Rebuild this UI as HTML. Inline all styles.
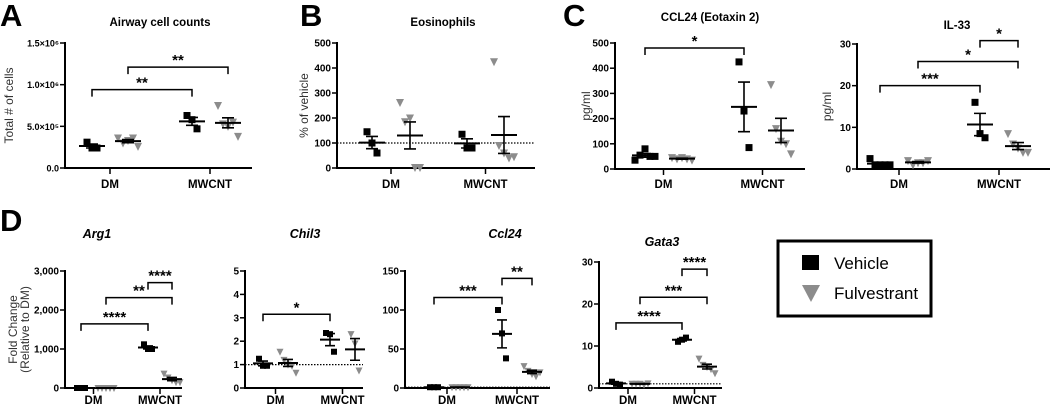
<!DOCTYPE html>
<html><head><meta charset="utf-8">
<style>
html,body{margin:0;padding:0;background:#fff;}
svg{display:block;font-family:"Liberation Sans",Arial,sans-serif;}
</style></head>
<body>
<svg id="fig" width="1050" height="406" viewBox="0 0 1050 406" xmlns="http://www.w3.org/2000/svg">
<text x="0" y="26" font-size="31" font-weight="bold">A</text>
<text x="300" y="26" font-size="31" font-weight="bold">B</text>
<text x="563" y="26" font-size="31" font-weight="bold">C</text>
<text x="0" y="231" font-size="31" font-weight="bold">D</text>
<g>
<rect x="778" y="241" width="153" height="75" fill="none" stroke="#000" stroke-width="3"/>
<rect x="802" y="255" width="17" height="15" fill="#000"/>
<text x="834" y="269" font-size="17">Vehicle</text>
<polygon points="802,285 820,285 811,302" fill="#8c8c8c"/>
<text x="834" y="299" font-size="17">Fulvestrant</text>
</g>
</svg>
<script>
// ---- data (group order: DM, MWCNT) ----
const groups = ["DM","MWCNT"];
const A_vehicle = [[3.1e5,2.4e5,2.4e5],[6.3e5,5.8e5,4.7e5]];
const A_fulv = [[3.6e5,3.0e5,3.3e5,3.6e5,2.6e5],[7.5e5,5.3e5,5.0e5,5.5e5,3.8e5]];
const A_ticks = [0,5e5,1e6,1.5e6];
const A_tickLabels = ["0.0","5.0×10⁵","1.0×10⁶","1.5×10⁶"];
const A_brackets = [[0,2,0.94e6,"**"],[1,3,1.21e6,"**"]];

const B_vehicle = [[145,100,60],[135,80,80]];
const B_fulv = [[262,185,200,2,2],[425,90,60,40,45]];
const B_ticks = [0,100,200,300,400,500];
const B_tickLabels = ["0","100","200","300","400","500"];
const B_brackets = [];

const C1_vehicle = [[35,55,80,50,50],[425,230,85]];
const C1_fulv = [[45,40,45,40,35],[335,160,110,100,60]];
const C1_ticks = [0,100,200,300,400,500];
const C1_tickLabels = ["0","100","200","300","400","500"];
const C1_brackets = [[0,2,480,"*"]];

const C2_vehicle = [[2.5,1,1,1,1],[16,8.5,7.5]];
const C2_fulv = [[2,1,1.5,1.5,2],[8.5,6,5,4,4]];
const C2_ticks = [0,10,20,30];
const C2_tickLabels = ["0","10","20","30"];
const C2_brackets = [[0,2,20,"***"],[1,3,25.8,"*"],[2,3,30.8,"*"]];

const D1_vehicle = [[0,0,0],[1120,1000,1000]];
const D1_fulv = [[0,0,0,0,0],[370,270,200,150,150]];
const D1_ticks = [0,1000,2000,3000];
const D1_tickLabels = ["0","1,000","2,000","3,000"];
const D1_brackets = [[0,2,1645,"****"],[1,3,2318,"**"],[2,3,2702,"****"]];

const D2_vehicle = [[1.25,0.95,0.95],[2.35,2.3,1.55]];
const D2_fulv = [[1.55,1.2,1.0,0.95,0.65],[2.3,1.9,0.75]];
const D2_ticks = [0,1,2,3,4,5];
const D2_tickLabels = ["0","1","2","3","4","5"];
const D2_brackets = [[0,2,3.15,"*"]];

const D3_vehicle = [[1,1,1],[100,70,38]];
const D3_fulv = [[1,1,1,1,1],[28,22,18,15,20]];
const D3_ticks = [0,50,100,150];
const D3_tickLabels = ["0","50","100","150"];
const D3_brackets = [[0,2,116,"***"],[2,3,140.6,"**"]];

const D4_vehicle = [[1.5,1,0.8],[11,11.5,12]];
const D4_fulv = [[1,1,1,0.8,1.1],[7,5.5,5,4.5,3.5]];
const D4_ticks = [0,10,20,30];
const D4_tickLabels = ["0","10","20","30"];
const D4_brackets = [[0,2,15.5,"****"],[1,3,21.6,"***"],[2,3,28.3,"****"]];

const NS="http://www.w3.org/2000/svg";
const svg=document.getElementById('fig');
function mk(tag,attrs,parent,txt){const e=document.createElementNS(NS,tag);for(const k in attrs)e.setAttribute(k,attrs[k]);if(txt!==undefined)e.textContent=txt;(parent||svg).appendChild(e);return e;}
function mean(a){return a.reduce((s,v)=>s+v,0)/a.length;}
function sem(a){const m=mean(a);if(a.length<2)return 0;const v=a.reduce((s,x)=>s+(x-m)*(x-m),0)/(a.length-1);return Math.sqrt(v/a.length);}

function panel(c){
  const g=mk('g',{});
  
  
  const ymax=c.ticks[c.ticks.length-1];
  const ys=v=>c.yb-v/ymax*(c.yb-c.yt);
  const gx=c.gx;
  const t=mk('text',{x:c.tx,y:c.ty,'font-size':c.italic?12.5:11.5,'font-weight':'bold','text-anchor':'middle','font-style':c.italic?'italic':'normal'},g,c.title);
  
  
  c.ylab.forEach((l,i)=>{
    const yx=c.ylx+i*12;
    const yl=mk('text',{x:yx,y:(c.yt+c.yb)/2,'font-size':12,fill:'#333','text-anchor':'middle',transform:`rotate(-90 ${yx} ${(c.yt+c.yb)/2})`},g,l);
    
    
  });
  if(c.ref!==undefined){
    const r=mk('line',{x1:c.x0,x2:c.x1,y1:ys(c.ref),y2:ys(c.ref),stroke:'#000','stroke-width':1.2,'stroke-dasharray':'1.5,1.5'},g);
    
    
  }
  const ya=mk('line',{x1:c.x0,x2:c.x0,y1:c.yt-1,y2:c.yb+1,stroke:'#000','stroke-width':2},g);
  
  
  const xa=mk('line',{x1:c.x0-1,x2:c.x1,y1:c.yb,y2:c.yb,stroke:'#000','stroke-width':2},g);
  
  
  c.ticks.forEach((v,i)=>{
    const tk=mk('line',{x1:c.x0-5,x2:c.x0,y1:ys(v),y2:ys(v),stroke:'#000','stroke-width':1.5},g);
    
    
    const tl=mk('text',{x:c.x0-6,y:ys(v)+3.5,'font-size':c.tfs||10,'font-weight':'bold','text-anchor':'end'},g,c.tickLabels[i]);
    
    
  });
  groups.forEach((gn,i)=>{
    const cx=(gx[i*2]+gx[i*2+1])/2;
    const tk=mk('line',{x1:cx,x2:cx,y1:c.yb,y2:c.yb+6,stroke:'#000','stroke-width':1.5},g);
    
    
    const tl=mk('text',{x:cx,y:c.xly,'font-size':11.5,'font-weight':'bold','text-anchor':'middle'},g,gn);
    
    
  });
  const sets=[[c.veh[0],gx[0],'v'],[c.ful[0],gx[1],'f'],[c.veh[1],gx[2],'v'],[c.ful[1],gx[3],'f']];
  sets.forEach(([arr,x,kind])=>{
    const n=arr.length, s=c.ms;
    arr.forEach((v,i)=>{
      const px=x+(i-(n-1)/2)*c.jit, py=ys(v);
      let m;
      if(kind==='v'){m=mk('rect',{x:px-s/2,y:py-s/2,width:s,height:s,fill:'#000'},g);}
      else{m=mk('polygon',{points:`${px-s/2-0.5},${py-s/2} ${px+s/2+0.5},${py-s/2} ${px},${py+s/2+1}`,fill:'#8c8c8c'},g);}
      
    });
    const m=mean(arr), e=sem(arr);
    const ml=mk('line',{x1:x-c.mw,x2:x+c.mw,y1:ys(m),y2:ys(m),stroke:'#000','stroke-width':2},g);
    
    
    const eb=mk('path',{d:`M${x},${ys(m-e)}V${ys(m+e)}M${x-c.cw},${ys(m+e)}H${x+c.cw}M${x-c.cw},${ys(m-e)}H${x+c.cw}`,stroke:'#000','stroke-width':1.6,fill:'none'},g);
    
    
  });
  c.brackets.forEach(([a,b,v,lab])=>{
    const y=ys(v);
    const br=mk('path',{d:`M${gx[a]},${y+7}V${y}H${gx[b]}V${y+7}`,stroke:'#000','stroke-width':1.5,fill:'none'},g);
    
    
    const bl=mk('text',{x:(gx[a]+gx[b])/2,y:y-2,'font-size':15,'font-weight':'bold','text-anchor':'middle'},g,lab);
    
    
  });
}

panel({name:'panel-a-airway-cell-counts',title:'Airway cell counts',tx:160,ty:26,x0:65,x1:252,yt:43,yb:168,gx:[92,128,192,228],
  veh:A_vehicle,ful:A_fulv,ticks:A_ticks,tickLabels:A_tickLabels,brackets:A_brackets,ylab:['Total # of cells'],ylx:13,xly:188,ms:7,jit:5,mw:13,cw:6,tfs:9});
panel({name:'panel-b-eosinophils',title:'Eosinophils',tx:443,ty:26,x0:337,x1:535,yt:43,yb:168,gx:[372,410,467,504],
  veh:B_vehicle,ful:B_fulv,ticks:B_ticks,tickLabels:B_tickLabels,brackets:B_brackets,ylab:['% of vehicle'],ylx:308,xly:188,ms:7,jit:5,mw:13,cw:6,ref:100});
panel({name:'panel-c-ccl24',title:'CCL24 (Eotaxin 2)',tx:710,ty:21,x0:615,x1:805,yt:43,yb:169,gx:[645,682,744,781],
  veh:C1_vehicle,ful:C1_fulv,ticks:C1_ticks,tickLabels:C1_tickLabels,brackets:C1_brackets,ylab:['pg/ml'],ylx:590,xly:188,ms:7,jit:5,mw:13,cw:6});
panel({name:'panel-c-il33',title:'IL-33',tx:957,ty:29,x0:857,x1:1050,yt:44,yb:169,gx:[880,918,980,1018],
  veh:C2_vehicle,ful:C2_fulv,ticks:C2_ticks,tickLabels:C2_tickLabels,brackets:C2_brackets,ylab:['pg/ml'],ylx:831,xly:188,ms:7,jit:5,mw:13,cw:6});
panel({name:'panel-d-arg1',title:'Arg1',italic:true,tx:97,ty:238,x0:65,x1:182,yt:271,yb:388,gx:[81,106,148,172],
  veh:D1_vehicle,ful:D1_fulv,ticks:D1_ticks,tickLabels:D1_tickLabels,brackets:D1_brackets,ylab:['Fold Change','(Relative to DM)'],ylx:17,xly:404,ms:6,jit:4,mw:10,cw:5});
panel({name:'panel-d-chil3',title:'Chil3',italic:true,tx:305,ty:238,x0:245,x1:363,yt:271,yb:388,gx:[263,288,330,355],
  veh:D2_vehicle,ful:D2_fulv,ticks:D2_ticks,tickLabels:D2_tickLabels,brackets:D2_brackets,ylab:[],ylx:0,xly:404,ms:6,jit:4,mw:10,cw:5,ref:1});
panel({name:'panel-d-ccl24',title:'Ccl24',italic:true,tx:505,ty:238,x0:405,x1:550,yt:271,yb:388,gx:[434,460,502,532],
  veh:D3_vehicle,ful:D3_fulv,ticks:D3_ticks,tickLabels:D3_tickLabels,brackets:D3_brackets,ylab:[],ylx:0,xly:404,ms:6,jit:4,mw:10,cw:5,ref:1});
panel({name:'panel-d-gata3',title:'Gata3',italic:true,tx:662,ty:246,x0:599,x1:722,yt:262,yb:388,gx:[616,640,682,707],
  veh:D4_vehicle,ful:D4_fulv,ticks:D4_ticks,tickLabels:D4_tickLabels,brackets:D4_brackets,ylab:[],ylx:0,xly:404,ms:6,jit:4,mw:10,cw:5,ref:1});
</script>
</body></html>
